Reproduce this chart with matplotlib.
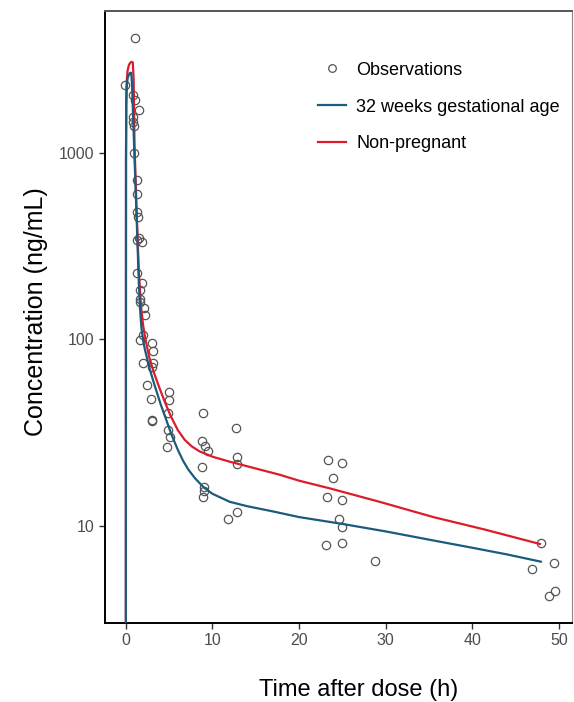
import matplotlib
matplotlib.use("Agg")
import matplotlib.pyplot as plt
from matplotlib.lines import Line2D

# ------------------------------------------------------------
#  Data
# ------------------------------------------------------------
# observed concentrations (open circles)
obs_time = [1.04, -0.1, 0.85, 1.04, 1.54, 0.85, 0.85, 0.96, 0.96, 1.24,
            1.31, 1.24, 1.42, 1.54, 1.25, 1.85, 1.31, 1.81, 1.62, 1.62,
            1.62, 2.08, 2.19, 1.93, 1.62, 2.97, 3.16, 3.16, 1.93, 3.0,
            2.5, 2.85, 5.0, 5.0, 2.97, 3.05, 4.89, 4.89, 5.08, 4.7,
            8.93, 12.67, 8.74, 9.12, 9.43, 12.78, 12.78, 8.81, 9.0, 9.0,
            8.93, 12.85, 11.74, 23.36, 24.98, 23.94, 23.17, 24.98, 24.63, 24.98,
            23.06, 24.98, 28.75, 47.9, 49.4, 46.85, 49.5, 48.9]
obs_conc = [4110, 2300, 2030, 1910, 1690, 1560, 1460, 1390, 1000, 712,
            598, 482, 453, 347, 338, 330, 225, 199, 183, 165,
            158, 146, 134, 105, 99, 95, 86, 74, 74, 71,
            56.6, 48, 52, 47, 37, 36.5, 40.3, 32.5, 29.9, 26.5,
            40.3, 33.2, 28.4, 26.7, 25.2, 23.2, 21.4, 20.5, 16.0, 15.3,
            14.3, 11.8, 10.8, 22.4, 21.7, 18.0, 14.3, 13.7, 10.9, 9.87,
            7.86, 8.09, 6.45, 8.09, 6.32, 5.85, 4.46, 4.19]

# model prediction, 32 weeks gestational age
preg_time = [0, 0.02, 0.05, 0.1, 0.2, 0.35, 0.5, 0.62, 0.72, 0.85,
             1.0, 1.25, 1.45, 1.62, 1.8, 2.0, 2.2, 2.5, 2.8, 3.35,
             4.0, 4.7, 5.3, 6.0, 6.6, 7.2, 8.0, 9.0, 10, 12,
             14, 17, 20, 25, 30, 35, 40, 44, 47.9]
preg_conc = [2, 900, 1800, 2250, 2500, 2620, 2680, 2680, 2300, 1500,
             950, 440, 235, 150, 115, 98, 88, 77, 68, 56,
             45, 36.5, 30.5, 25.5, 22.3, 20.0, 17.9, 16.0, 14.8, 13.4,
             12.7, 11.9, 11.1, 10.2, 9.3, 8.4, 7.6, 7.0, 6.4]

# model prediction, non-pregnant
nonp_time = [0, 0.02, 0.05, 0.1, 0.2, 0.35, 0.5, 0.65, 0.8, 0.9,
             1.0, 1.25, 1.5, 1.75, 2.0, 2.3, 2.7, 3.2, 3.8, 4.5,
             5.2, 6.0, 6.8, 7.6, 8.5, 10, 12, 14, 17.8, 20,
             23.6, 29.3, 35.5, 41.5, 47.8]
nonp_conc = [2, 900, 1900, 2400, 2750, 2950, 3030, 3070, 3050, 2500,
             1100, 480, 230, 150, 118, 98, 80, 67, 56, 46,
             38.5, 32.5, 28.8, 26.6, 25.0, 23.4, 22.0, 20.8, 18.7, 17.4,
             15.8, 13.4, 11.1, 9.5, 7.96]

labels = ["Observations", "32 weeks gestational age", "Non-pregnant"]
BLUE = "#1b5b7d"
RED = "#dc1c2b"
GREY = "#555555"

plt.rcParams["font.family"] = ["Liberation Sans", "DejaVu Sans"]

fig = plt.figure(figsize=(5.74, 7.02), dpi=100)
ax = fig.add_axes([0.183, 0.1125, 0.8135, 0.8718])

ax.plot(obs_time, obs_conc, linestyle="none", marker="o", markersize=6,
        markerfacecolor="none", markeredgecolor=GREY, markeredgewidth=0.9,
        zorder=2)
ax.plot(nonp_time, nonp_conc, color=RED, linewidth=1.6, zorder=3)
ax.plot(preg_time, preg_conc, color=BLUE, linewidth=1.6, zorder=4)

ax.set_yscale("log")
ax.set_xlim(-2.4, 51.5)
ax.set_ylim(3.0, 5750)
ax.set_xticks([0, 10, 20, 30, 40, 50])
ax.set_yticks([10, 100, 1000])
ax.set_yticklabels(["10", "100", "1000"])
ax.minorticks_off()

ax.tick_params(axis="both", labelsize=11.5, labelcolor="#4d4d4d",
               color="#333333", length=4, width=1.0)
ax.set_xlabel("Time after dose (h)", fontsize=17, labelpad=22)
ax.set_ylabel("Concentration (ng/mL)", fontsize=18, labelpad=8)
ax.xaxis.label.set_x(0.544)
ax.yaxis.label.set_y(0.509)

for side in ["left", "bottom"]:
    ax.spines[side].set_color("black")
    ax.spines[side].set_linewidth(1.4)
ax.spines["top"].set_color(GREY)
ax.spines["top"].set_linewidth(1.4)
ax.spines["right"].set_color("#888888")
ax.spines["right"].set_linewidth(0.8)

handles = [
    Line2D([], [], linestyle="none", marker="o", markersize=5.5,
           markerfacecolor="none", markeredgecolor=GREY, markeredgewidth=0.9),
    Line2D([], [], color=BLUE, linewidth=1.6),
    Line2D([], [], color=RED, linewidth=1.6),
]
ax.legend(handles, labels, loc="upper left", bbox_to_anchor=(0.437, 0.932),
          frameon=False, fontsize=13, handlelength=1.55, handletextpad=0.55,
          labelspacing=1.1, borderpad=0)

fig.savefig("out.png", dpi=100)
